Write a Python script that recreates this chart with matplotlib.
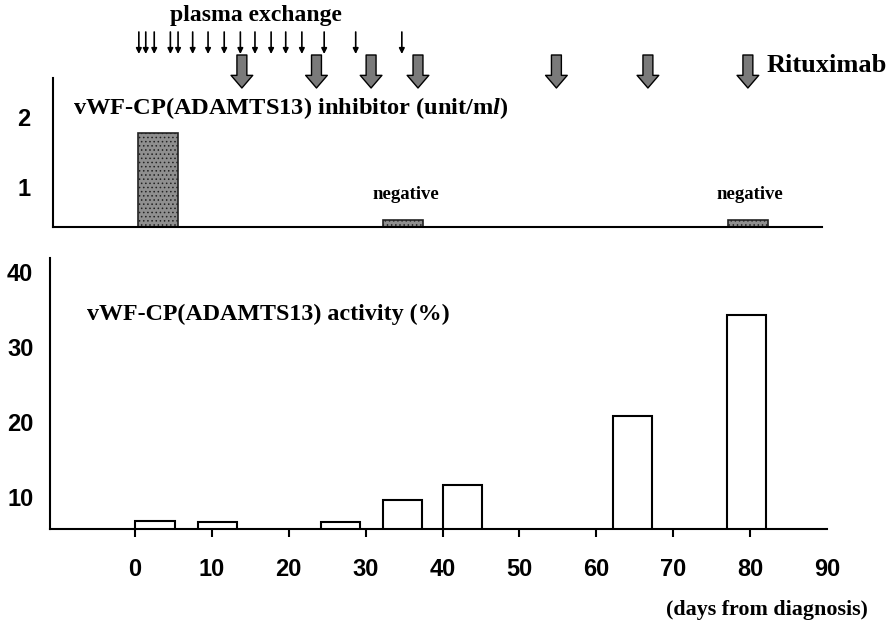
import matplotlib
matplotlib.use("Agg")
import matplotlib.pyplot as plt

# ---------------- data ----------------
plasma_exchange_days = [0.5, 1.4, 2.5, 4.6, 5.6, 7.5, 9.5, 11.6, 13.7, 15.6,
                        17.7, 19.6, 21.7, 24.6, 28.7, 34.7]
rituximab_days = [13.9, 23.6, 30.7, 36.8, 54.8, 66.7, 79.7]

inhibitor_days = [3.0, 34.9, 79.7]
inhibitor_values = [1.77, 0.53, 0.53]
inhibitor_labels = ["", "negative", "negative"]

activity_days = [2.6, 10.7, 26.7, 34.8, 42.6, 64.7, 79.5]
activity_values = [6.8, 6.7, 6.7, 9.6, 11.6, 20.8, 34.3]

x_ticks = [0, 10, 20, 30, 40, 50, 60, 70, 80, 90]
inhib_yticks = [1, 2]
act_yticks = [10, 20, 30, 40]

# ---------------- style ----------------
plt.rcParams['mathtext.fontset'] = 'custom'
plt.rcParams['mathtext.it'] = 'Liberation Serif:italic:bold'
plt.rcParams['mathtext.rm'] = 'Liberation Serif:bold'
plt.rcParams['hatch.linewidth'] = 0.6

SERIF = 'Liberation Serif'
SANS = 'Liberation Sans'
W, H = 896, 623
PXD = 7.69   # pixels per day
X0 = 135     # pixel of day 0

fig = plt.figure(figsize=(W / 100, H / 100), dpi=100)

def axes_px(left, right, top, bottom):
    return fig.add_axes([left / W, 1 - bottom / H, (right - left) / W, (bottom - top) / H])

# ---- top panel: inhibitor ----
ax1 = axes_px(53, 822, 78, 227)
ax1.set_xlim((53 - X0) / PXD, (822 - X0) / PXD)
ax1.set_ylim(0.43, 2.56)
ax1.bar(inhibitor_days, inhibitor_values, width=5.2, color='#8f8f8f',
        edgecolor='#222222', linewidth=1.2, hatch='....')
for d, v, lab in zip(inhibitor_days, inhibitor_values, inhibitor_labels):
    if lab:
        ax1.text(d + 0.3, 0.9, lab, ha='center', va='center', family=SERIF,
                 fontweight='bold', fontsize=13.5)
for s in ['top', 'right']:
    ax1.spines[s].set_visible(False)
for s in ['left', 'bottom']:
    ax1.spines[s].set_linewidth(1.5)
ax1.set_xticks([])
ax1.set_yticks(inhib_yticks)
ax1.set_yticklabels([str(t) for t in inhib_yticks], family=SANS,
                    fontweight='bold', fontsize=17)
ax1.tick_params(axis='y', length=0, pad=16)

# ---- bottom panel: activity ----
ax2 = axes_px(50, 827, 258, 529)
ax2.set_xlim((50 - X0) / PXD, (827 - X0) / PXD)
ax2.set_ylim(5.73, 41.9)
ax2.bar(activity_days, activity_values, width=5.1, color='white',
        edgecolor='black', linewidth=1.5)
for s in ['top', 'right']:
    ax2.spines[s].set_visible(False)
for s in ['left', 'bottom']:
    ax2.spines[s].set_linewidth(1.5)
ax2.set_xticks(x_ticks)
ax2.set_xticklabels([str(t) for t in x_ticks], family=SANS,
                    fontweight='bold', fontsize=17)
ax2.tick_params(axis='x', direction='out', length=6, width=1.5, pad=15)
ax2.xaxis.get_major_ticks()[-1].tick1line.set_visible(False)
ax2.set_yticks(act_yticks)
ax2.set_yticklabels([str(t) for t in act_yticks], family=SANS,
                    fontweight='bold', fontsize=17)
ax2.tick_params(axis='y', length=0, pad=12)

# ---- titles / annotations ----
fig.text(73 / W, 1 - 108 / H, r'vWF-CP(ADAMTS13) inhibitor (unit/m$\mathit{l}$)',
         family=SERIF, fontweight='bold', fontsize=17.6, va='center', ha='left')
fig.text(87 / W, 1 - 314 / H, 'vWF-CP(ADAMTS13) activity (%)',
         family=SERIF, fontweight='bold', fontsize=17.3, va='center', ha='left')
fig.text(256 / W, 1 - 16 / H, 'plasma exchange', family=SERIF,
         fontweight='bold', fontsize=17, va='center', ha='center')
fig.text(767 / W, 1 - 66 / H, 'Rituximab', family=SERIF,
         fontweight='bold', fontsize=19, va='center', ha='left')
fig.text(767 / W, 1 - 610 / H, '(days from diagnosis)', family=SERIF,
         fontweight='bold', fontsize=15.8, va='center', ha='center')

# plasma exchange arrows
for d in plasma_exchange_days:
    ax1.annotate('', xy=(d, H - 54), xytext=(d, H - 32),
                 xycoords=('data', 'figure pixels'),
                 arrowprops=dict(arrowstyle='-|>', lw=1.2, color='black',
                                 mutation_scale=8, shrinkA=0, shrinkB=0),
                 annotation_clip=False)

# rituximab arrows
for d in rituximab_days:
    ax1.annotate('', xy=(d, H - 88), xytext=(d, H - 55),
                 xycoords=('data', 'figure pixels'),
                 arrowprops=dict(arrowstyle='simple,head_length=0.7,head_width=1.2,tail_width=0.55',
                                 fc='#7a7a7a', ec='black', lw=1.0,
                                 mutation_scale=13, shrinkA=0, shrinkB=0),
                 annotation_clip=False)

fig.savefig('out.png', dpi=100)
